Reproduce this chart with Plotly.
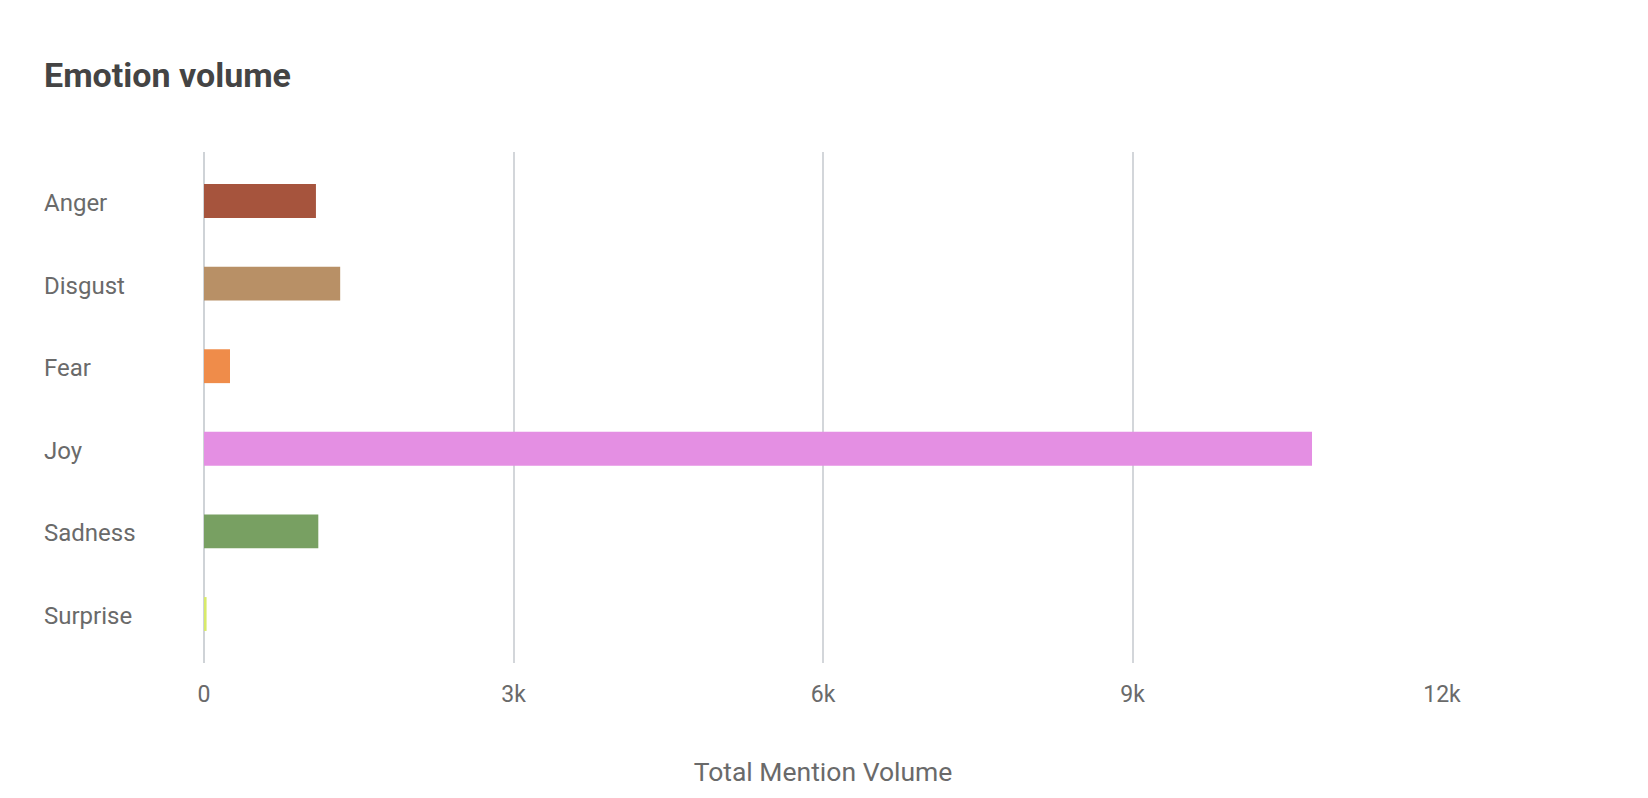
import plotly.graph_objects as go

categories = ["Anger", "Disgust", "Fear", "Joy", "Sadness", "Surprise"]
values = [1085, 1320, 252, 10740, 1108, 25]
colors = ["#a6543d", "#b89066", "#ef8c4a", "#e48fe3", "#78a062", "#d8ea6a"]
x_tickvals = [0, 3000, 6000, 9000, 12000]
x_ticktext = ["0", "3k", "6k", "9k", "12k"]

# page has 8px body margin, so the figure is drawn 8px smaller
W, H = 1640, 790
L, T = 196, 144
PW, PH = 1238, 511
R = W - L - PW
B = H - T - PH

fig = go.Figure()
fig.add_trace(go.Bar(
    y=categories, x=values, orientation="h",
    marker=dict(color=colors, line=dict(width=0)),
    width=0.41, showlegend=False, hoverinfo="x+y",
))

label_x = (34 - L) / PW
for c in categories:
    fig.add_annotation(
        x=label_x, xref="paper", xanchor="left",
        y=c, yref="y", yanchor="middle", yshift=-2,
        text=c, showarrow=False,
        font=dict(family="Roboto", size=24, color="#6a6a6a"),
    )

fig.update_layout(
    width=W, height=H,
    margin=dict(l=L, r=R, t=T, b=B, pad=0),
    paper_bgcolor="white", plot_bgcolor="white",
    font=dict(family="Roboto", color="#6a6a6a"),
    title=dict(
        text="<b>Emotion volume</b>",
        x=36 / W, xref="container", xanchor="left",
        y=1 - 67 / H, yref="container", yanchor="middle",
        font=dict(family="Roboto", size=34, color="#444444"),
    ),
    xaxis=dict(
        range=[0, 12000],
        tickvals=x_tickvals, ticktext=x_ticktext,
        showgrid=True, gridcolor="#d3d6da", gridwidth=1.5,
        zeroline=True, zerolinecolor="#cfd3d7", zerolinewidth=2,
        showline=False, ticks="",
        tickfont=dict(family="Roboto", size=23, color="#6a6a6a"),
        ticklabelstandoff=15,
        title=dict(text="Total Mention Volume", standoff=55,
                   font=dict(family="Roboto", size=26.5, color="#6a6a6a")),
        fixedrange=True,
    ),
    yaxis=dict(
        categoryorder="array", categoryarray=categories,
        range=[5.593, -0.593],
        showticklabels=False, showgrid=False, zeroline=False, ticks="",
        fixedrange=True,
    ),
)

fig.write_html("out.html")
